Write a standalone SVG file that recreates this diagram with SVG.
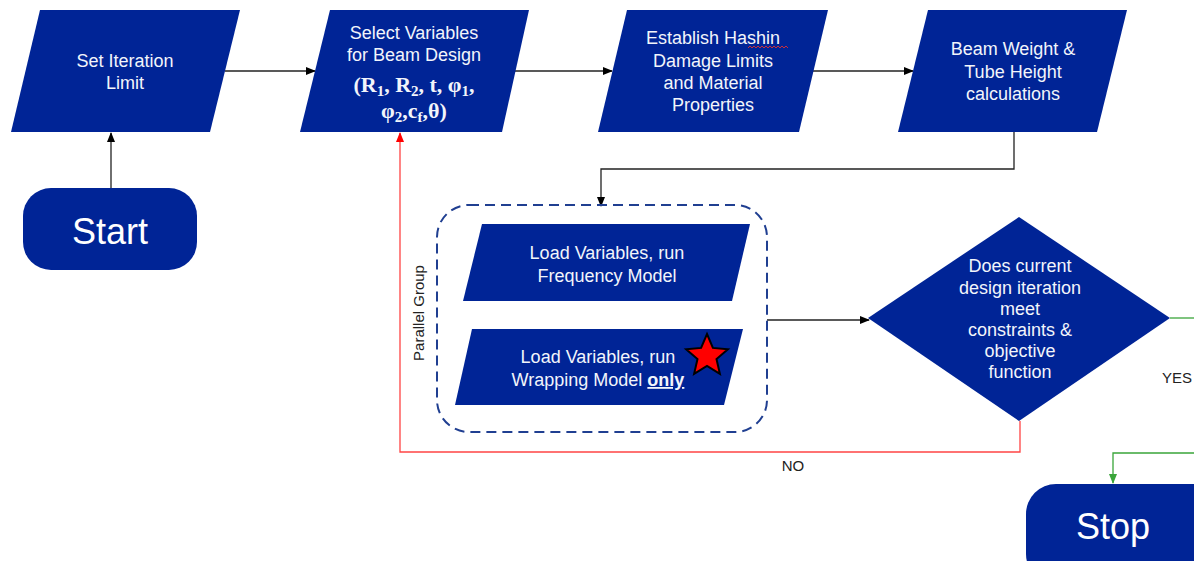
<svg xmlns="http://www.w3.org/2000/svg" width="1194" height="561" viewBox="0 0 1194 561">
<defs>
<marker id="ab" markerWidth="10" markerHeight="10" refX="9" refY="5" orient="auto" markerUnits="userSpaceOnUse"><path d="M0,1 L10,5 L0,9 Z" fill="#000"/></marker>
<marker id="ar" markerWidth="10" markerHeight="10" refX="9" refY="5" orient="auto" markerUnits="userSpaceOnUse"><path d="M0,1 L10,5 L0,9 Z" fill="#f00"/></marker>
<marker id="ag" markerWidth="10" markerHeight="10" refX="9" refY="5" orient="auto" markerUnits="userSpaceOnUse"><path d="M0,1 L10,5 L0,9 Z" fill="#3aa53a"/></marker>
<style>
.shape{fill:#002496;}
.t{font-family:"Liberation Sans",Arial,sans-serif;font-size:18px;fill:#f2f5fb;text-anchor:middle;}
.tb{font-family:"Liberation Sans",Arial,sans-serif;font-size:36px;fill:#fff;text-anchor:middle;}
.ts{font-family:"Liberation Serif","Times New Roman",serif;font-size:22px;font-weight:bold;fill:#f2f5fb;text-anchor:middle;}
.lbl{font-family:"Liberation Sans",Arial,sans-serif;font-size:15px;fill:#222;}
.c{fill:none;stroke:#222;stroke-width:1.3;}
</style>
</defs>
<g id="connectors">
<path class="c" d="M111,188 L111,133" marker-end="url(#ab)"/>
<path class="c" d="M225,71 L315,71" marker-end="url(#ab)"/>
<path class="c" d="M515,71 L612,71" marker-end="url(#ab)"/>
<path class="c" d="M813,71 L913,71" marker-end="url(#ab)"/>
<path class="c" d="M1014,132 L1014,169 L601,169 L601,206" stroke="#666" marker-end="url(#ab)"/>
<path class="c" d="M767,320 L869,320" marker-end="url(#ab)"/>
<path d="M1020,421 L1020,452 L400,452 L400,133" fill="none" stroke="#f44" stroke-width="1.3" marker-end="url(#ar)"/>
<path d="M1170,318 L1194,318" fill="none" stroke="#3aa53a" stroke-width="1.3"/>
<path d="M1194,453 L1113,453 L1113,483" fill="none" stroke="#3aa53a" stroke-width="1.3" marker-end="url(#ag)"/>
<text class="lbl" x="793" y="471" text-anchor="middle">NO</text>
<text class="lbl" x="1162" y="383">YES</text>
</g>
<g id="start">
<rect class="shape" x="23" y="188" width="174" height="82" rx="28"/>
<text class="tb" x="110" y="244">Start</text>
</g>
<g id="set-iteration">
<polygon class="shape" points="40,10 240,10 210,132 11,132"/>
<text class="t" x="125" y="67">Set Iteration</text>
<text class="t" x="125" y="89">Limit</text>
</g>
<g id="select-variables">
<polygon class="shape" points="330,10 529,10 502,132 300,132"/>
<text class="t" x="414" y="39">Select Variables</text>
<text class="t" x="414" y="61">for Beam Design</text>
<text class="ts" x="414" y="92">(R<tspan font-size="15" dy="4">1</tspan><tspan dy="-4">, R</tspan><tspan font-size="15" dy="4">2</tspan><tspan dy="-4">, t, φ</tspan><tspan font-size="15" dy="4">1</tspan><tspan dy="-4">,</tspan></text>
<text class="ts" x="414" y="118">φ<tspan font-size="15" dy="4">2</tspan><tspan dy="-4">,c</tspan><tspan font-size="15" dy="4">f</tspan><tspan dy="-4">,θ)</tspan></text>
</g>
<g id="establish-hashin">
<polygon class="shape" points="627,10 828,10 799,132 598,132"/>
<text class="t" x="713" y="44">Establish Hashin</text>
<path d="M748,48 l2,-2 l2,2 l2,-2 l2,2 l2,-2 l2,2 l2,-2 l2,2 l2,-2 l2,2 l2,-2 l2,2 l2,-2 l2,2 l2,-2 l2,2 l2,-2 l2,2 l2,-2 l2,2" fill="none" stroke="#e03030" stroke-width="0.9"/>
<text class="t" x="713" y="67">Damage Limits</text>
<text class="t" x="713" y="89">and Material</text>
<text class="t" x="713" y="111">Properties</text>
</g>
<g id="beam-weight">
<polygon class="shape" points="928,10 1127,10 1097,132 898,132"/>
<text class="t" x="1013" y="55">Beam Weight &amp;</text>
<text class="t" x="1013" y="78">Tube Height</text>
<text class="t" x="1013" y="100">calculations</text>
</g>
<g id="parallel-group">
<rect x="437" y="205" width="330" height="227" rx="32" fill="none" stroke="#203f91" stroke-width="2" stroke-dasharray="10,6"/>
<text class="lbl" x="0" y="0" text-anchor="middle" font-size="17" transform="translate(424,313) rotate(-90)">Parallel Group</text>
</g>
<g id="frequency-model">
<polygon class="shape" points="482,224 750,224 732,301 463,301"/>
<text class="t" x="607" y="259">Load Variables, run</text>
<text class="t" x="607" y="282">Frequency Model</text>
</g>
<g id="wrapping-model">
<polygon class="shape" points="472,329 743,329 724,405 455,405"/>
<text class="t" x="598" y="363">Load Variables, run</text>
<text class="t" x="598" y="386">Wrapping Model <tspan font-weight="bold" text-decoration="underline">only</tspan></text>
<polygon points="707,334 712.9,347.9 727.9,349.2 716.5,359.1 719.9,373.8 707,366 694.1,373.8 697.5,359.1 686.1,349.2 701.1,347.9" fill="#f00" stroke="#000" stroke-width="2" stroke-linejoin="miter"/>
</g>
<g id="decision">
<polygon class="shape" points="1019,217 1170,318 1019,421 868,318"/>
<text class="t" x="1020" y="272">Does current</text>
<text class="t" x="1020" y="294">design iteration</text>
<text class="t" x="1020" y="315">meet</text>
<text class="t" x="1020" y="336">constraints &amp;</text>
<text class="t" x="1020" y="357">objective</text>
<text class="t" x="1020" y="378">function</text>
</g>
<g id="stop">
<rect class="shape" x="1026" y="484" width="200" height="100" rx="30"/>
<text class="tb" x="1113" y="539">Stop</text>
</g>
</svg>
